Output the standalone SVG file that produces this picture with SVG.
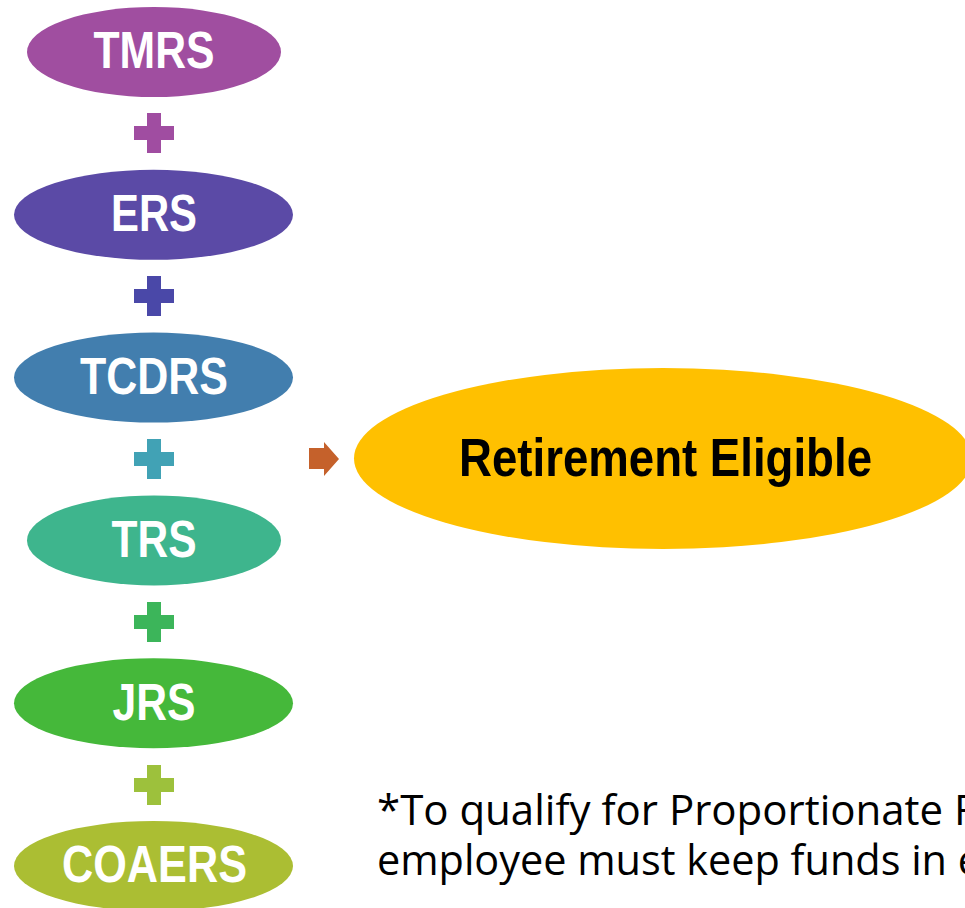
<svg xmlns="http://www.w3.org/2000/svg" width="965" height="908" viewBox="0 0 965 908">
  <style>
    .lbl { font-family: "Liberation Sans", Arial, sans-serif; font-weight: bold; font-size: 52px; fill: #FFFFFF; text-anchor: middle; }
    .big { font-family: "Liberation Sans", Arial, sans-serif; font-weight: bold; font-size: 54px; fill: #000000; text-anchor: middle; }
    .note { font-family: "Open Sans", "Noto Sans", sans-serif; font-size: 42px; fill: #000000; }
  </style>
  <defs>
    <path id="plus" d="M-7,-20 H7 V-7 H20 V7 H7 V20 H-7 V7 H-20 V-7 H-7 Z"/>
  </defs>
  <rect width="965" height="908" fill="#FFFFFF"/>

  <g id="node-tmrs">
    <ellipse cx="154" cy="52" rx="127" ry="45" fill="#A04EA0"/>
    <text class="lbl" x="154" y="68" textLength="121" lengthAdjust="spacingAndGlyphs">TMRS</text>
  </g>
  <g id="node-ers">
    <ellipse cx="153.5" cy="214.8" rx="139.5" ry="45" fill="#5B4AA6"/>
    <text class="lbl" x="154" y="231" textLength="86" lengthAdjust="spacingAndGlyphs">ERS</text>
  </g>
  <g id="node-tcdrs">
    <ellipse cx="153.5" cy="377.6" rx="139.5" ry="45" fill="#427EAE"/>
    <text class="lbl" x="154" y="394" textLength="148" lengthAdjust="spacingAndGlyphs">TCDRS</text>
  </g>
  <g id="node-trs">
    <ellipse cx="154" cy="540.4" rx="127" ry="45" fill="#3EB58D"/>
    <text class="lbl" x="154" y="557" textLength="85" lengthAdjust="spacingAndGlyphs">TRS</text>
  </g>
  <g id="node-jrs">
    <ellipse cx="153.5" cy="703.2" rx="139.5" ry="45" fill="#45B83A"/>
    <text class="lbl" x="154" y="720" textLength="83" lengthAdjust="spacingAndGlyphs">JRS</text>
  </g>
  <g id="node-coaers">
    <ellipse cx="153.5" cy="866" rx="139.5" ry="45" fill="#ABBE33"/>
    <text class="lbl" x="154.5" y="882" textLength="185" lengthAdjust="spacingAndGlyphs">COAERS</text>
  </g>

  <g id="operators">
    <use href="#plus" x="154" y="133" fill="#A04DA1"/>
    <use href="#plus" x="154" y="296" fill="#4A48A8"/>
    <use href="#plus" x="154" y="459" fill="#41A2B5"/>
    <use href="#plus" x="154" y="622" fill="#3CB55A"/>
    <use href="#plus" x="154" y="785" fill="#9DC13C"/>
  </g>

  <g id="connectors">
    <path d="M309,448 H324 V442 L339,459 L324,476 V469 H309 Z" fill="#C5612B"/>
  </g>

  <g id="node-retirement">
    <ellipse cx="663" cy="458.5" rx="309" ry="90.5" fill="#FFC000"/>
    <text class="big" x="665.5" y="476" textLength="413" lengthAdjust="spacingAndGlyphs">Retirement Eligible</text>
  </g>

  <g id="note">
    <text class="note" x="377" y="825" textLength="603" lengthAdjust="spacingAndGlyphs">*To qualify for Proportionate R</text>
    <text class="note" x="377" y="875" textLength="604" lengthAdjust="spacingAndGlyphs">employee must keep funds in e</text>
  </g>
</svg>
